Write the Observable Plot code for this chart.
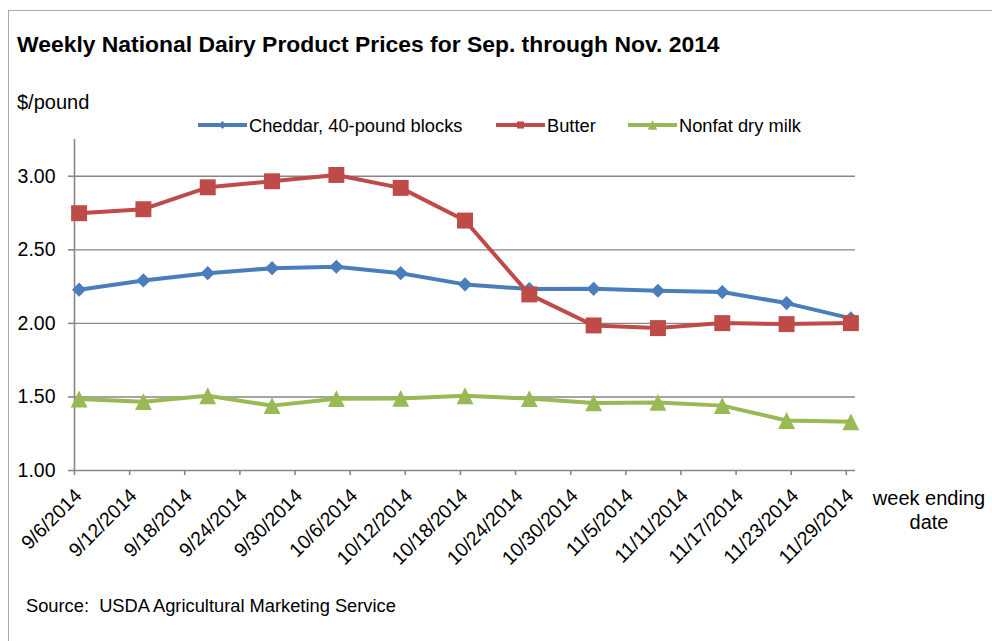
<!DOCTYPE html>
<html><head><meta charset="utf-8">
<script src="https://cdn.jsdelivr.net/npm/d3@7"></script>
<script src="https://cdn.jsdelivr.net/npm/@observablehq/plot@0.6"></script>
<style>
body{margin:0;background:#fff;font-family:"Liberation Sans",Arial,sans-serif;}
#wrap{position:relative;width:992px;height:641px;overflow:hidden;background:#fff;}
#frame{position:absolute;left:8px;top:10px;width:1000px;height:700px;border:1.5px solid #a8a8a8;box-sizing:border-box;}
#wrap svg{position:absolute;left:0;top:0;}
</style></head>
<body><div id="wrap"><div id="frame"></div></div>
<script>
// ---- data ----
const weekEnding = ["2014-09-06","2014-09-13","2014-09-20","2014-09-27","2014-10-04","2014-10-11","2014-10-18","2014-10-25","2014-11-01","2014-11-08","2014-11-15","2014-11-22","2014-11-29"];
const cheddar = [2.229, 2.292, 2.341, 2.375, 2.385, 2.341, 2.265, 2.233, 2.235, 2.222, 2.213, 2.138, 2.034];
const butter  = [2.749, 2.776, 2.925, 2.966, 3.009, 2.921, 2.699, 2.197, 1.986, 1.968, 2.002, 1.995, 2.002];
const nonfatDryMilk = [1.486, 1.468, 1.508, 1.441, 1.488, 1.490, 1.508, 1.489, 1.459, 1.463, 1.441, 1.340, 1.331];
const seriesNames = ["Cheddar, 40-pound blocks", "Butter", "Nonfat dry milk"];
const seriesColors = ["#4a7ebb", "#be4b48", "#98b954"];
const xTickLabels = ["9/6/2014","9/12/2014","9/18/2014","9/24/2014","9/30/2014","10/6/2014","10/12/2014","10/18/2014","10/24/2014","10/30/2014","11/5/2014","11/11/2014","11/17/2014","11/23/2014","11/29/2014"];
const xDomain = ["2014-09-06", "2014-11-30"];
const yTicks = [1.00, 1.50, 2.00, 2.50, 3.00];
const yDomain = [1.00, 3.25];

// ---- build ----
const parseISO = d3.utcParse("%Y-%m-%d");
const parseMDY = d3.utcParse("%m/%d/%Y");
const fmtMDY = d => `${d.getUTCMonth()+1}/${d.getUTCDate()}/${d.getUTCFullYear()}`;
const allValues = [cheddar, butter, nonfatDryMilk];
const rows = [];
seriesNames.forEach((s, k) => {
  weekEnding.forEach((d, i) => {
    // Excel date axis: points sit at the middle of their day
    rows.push({series: s, date: d3.utcHour.offset(parseISO(d), 12), value: allValues[k][i]});
  });
});
const colorOf = d3.scaleOrdinal(seriesNames, seriesColors);
const tickDates = xTickLabels.map(parseMDY);
const gridY = yTicks.filter(v => v > yDomain[0]);
const axisGray = "#878787";
// Excel-style triangle: as wide as it is tall, centred on its box
const excelTriangle = {draw(ctx, size) {
  const h = Math.sqrt(2 * size) / 2;
  ctx.moveTo(0, -h); ctx.lineTo(h, h); ctx.lineTo(-h, h); ctx.closePath();
}};

const chart = Plot.plot({
  width: 992, height: 641,
  marginLeft: 74, marginRight: 137, marginTop: 139, marginBottom: 171,
  x: {type: "utc", domain: xDomain.map(parseISO)},
  y: {domain: yDomain},
  style: {fontFamily: "'Liberation Sans', Arial, sans-serif", fontSize: "19.5px", color: "#000", background: "transparent", overflow: "visible"},
  marks: [
    Plot.ruleY(gridY, {stroke: axisGray, strokeWidth: 1.4}),
    Plot.ruleY([yDomain[0]], {stroke: axisGray, strokeWidth: 1.6}),
    Plot.ruleX([parseISO(xDomain[0])], {stroke: axisGray, strokeWidth: 1.6}),
    Plot.axisY({ticks: yTicks, tickFormat: d3.format(".2f"), tickSize: 6, tickPadding: 13, stroke: axisGray, strokeWidth: 1.6, label: null, fill: "#000"}),
    Plot.axisX({ticks: tickDates, tickSize: 5, stroke: axisGray, strokeWidth: 1.6, text: null, label: null}),
    Plot.axisX({ticks: tickDates, tickFormat: fmtMDY, tickRotate: -45, tickSize: 0, tickPadding: 9, dx: 4, dy: 13, label: null, fill: "#000"}),
    Plot.line(rows, {x: "date", y: "value", z: "series", stroke: d => colorOf(d.series), strokeWidth: 4, strokeLinejoin: "round"}),
    Plot.dot(rows.filter(d => d.series === seriesNames[0]), {x: "date", y: "value", symbol: "diamond2", r: 6.4, fill: seriesColors[0], stroke: null}),
    Plot.dot(rows.filter(d => d.series === seriesNames[1]), {x: "date", y: "value", symbol: "square", r: 9, fill: seriesColors[1], stroke: null}),
    Plot.dot(rows.filter(d => d.series === seriesNames[2]), {x: "date", y: "value", symbol: excelTriangle, r: 6.7, fill: seriesColors[2], stroke: null})
  ]
});
document.getElementById("wrap").appendChild(chart);

// ---- titles, legend, notes ----
const ov = d3.select("#wrap").append("svg").attr("width", 992).attr("height", 641)
  .style("font-family", "'Liberation Sans', Arial, sans-serif");
ov.append("text").attr("x", 17).attr("y", 52).attr("font-size", 22.9).attr("font-weight", "bold")
  .text("Weekly National Dairy Product Prices for Sep. through Nov. 2014");
ov.append("text").attr("x", 17).attr("y", 109).attr("font-size", 20).text("$/pound");
const legendX = [198, 496, 628];
const legendSym = [d3.symbolDiamond2, d3.symbolSquare, excelTriangle];
const legendSize = [40, 50, 45];
seriesNames.forEach((s, k) => {
  const g = ov.append("g").attr("transform", `translate(${legendX[k]},125)`);
  g.append("line").attr("x1", 0).attr("x2", 49).attr("stroke", seriesColors[k]).attr("stroke-width", 4);
  g.append("path").attr("transform", "translate(24.5,0)").attr("d", d3.symbol(legendSym[k], legendSize[k])()).attr("fill", seriesColors[k]);
  g.append("text").attr("x", 51).attr("y", 6.5).attr("font-size", 18.3).text(s);
});
const xt = ov.append("text").attr("text-anchor", "middle").attr("font-size", 20);
xt.append("tspan").attr("x", 929).attr("y", 505).text("week ending");
xt.append("tspan").attr("x", 929).attr("y", 529).text("date");
ov.append("text").attr("x", 26).attr("y", 612).attr("font-size", 18.3).attr("xml:space", "preserve")
  .style("white-space", "pre").text("Source:  USDA Agricultural Marketing Service");
</script></body></html>
